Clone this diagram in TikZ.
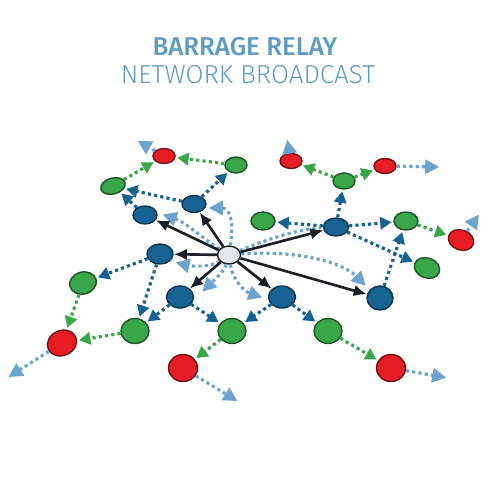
\documentclass[tikz,border=0pt]{standalone}
\usepackage{fontspec}
\newfontfamily\titlefont{Fira Sans Medium}
\newfontfamily\subtitlefont{Fira Sans Light}
\usetikzlibrary{shapes.geometric,arrows.meta}
\definecolor{titleblue}{RGB}{96,155,198}
\definecolor{hopblue}{RGB}{22,98,146}
\definecolor{hopgreen}{RGB}{58,166,74}
\definecolor{hopred}{RGB}{232,28,36}
\definecolor{echoblue}{RGB}{108,164,206}
\definecolor{hubgray}{RGB}{230,231,233}
\definecolor{linkblack}{RGB}{27,31,36}
\begin{document}
\begin{tikzpicture}[x=0.02cm,y=-0.02cm,>=Latex]
\tikzset{
  radio/.style={draw,shape=ellipse,inner sep=0pt,line width=0.8pt},
  sz/.style 2 args={minimum width=#1*0.02cm,minimum height=#2*0.02cm},
  hub/.style={radio,fill=hubgray,draw=linkblack},
  hopa/.style={radio,fill=hopblue,draw=hopblue!55!black},
  hopb/.style={radio,fill=hopgreen,draw=hopgreen!50!black},
  hopc/.style={radio,fill=hopred,draw=hopred!50!black},
  send/.style={-{Latex[length=7.5pt,width=6.5pt]},line width=1.5pt,draw=linkblack},
  dots/.style={line width=1.8pt,dash pattern=on 1.8pt off 1.8pt,shorten >=1pt},
  relaya/.style={dots,draw=hopblue,-{Triangle[length=6.5pt,width=7pt]}},
  relayb/.style={dots,draw=hopgreen,-{Triangle[length=6.5pt,width=7pt]}},
  echo/.style={dots,draw=echoblue,-{Triangle[length=8pt,width=8pt]}}
}
\useasboundingbox (0,0) rectangle (500,500);
% title
\node[text=titleblue,font=\titlefont\fontsize{14.7}{17}\selectfont] (head) at (245,47) {BARRAGE RELAY};
\node[text=titleblue,font=\subtitlefont\fontsize{14.8}{17}\selectfont] (subhead) at (248,75) {NETWORK BROADCAST};
% source
\node[hub,sz={23}{18}] (hub) at (229,255) {};
% first hop
\node[hopa,sz={24}{18}] (b1) at (145,215) {};
\node[hopa,sz={24}{17}] (b2) at (194,204) {};
\node[hopa,sz={26}{20}] (b3) at (160,254) {};
\node[hopa,sz={27}{22}] (b4) at (180,297) {};
\node[hopa,sz={27}{22}] (b5) at (282,297) {};
\node[hopa,sz={25}{18}] (b6) at (336,227) {};
\node[hopa,sz={26}{24}] (b7) at (380,298) {};
% second hop
\node[hopb,sz={25}{16},rotate=15] (g1) at (113,186) {};
\node[hopb,sz={22}{16}] (g2) at (236,165) {};
\node[hopb,sz={24}{18}] (g3) at (263,221) {};
\node[hopb,sz={22}{16}] (g4) at (344,181) {};
\node[hopb,sz={24}{18}] (g5) at (406,221) {};
\node[hopb,sz={26}{20},rotate=-20] (g6) at (427,268) {};
\node[hopb,sz={27}{22},rotate=15] (g7) at (83,283) {};
\node[hopb,sz={28}{25}] (g8) at (135,331) {};
\node[hopb,sz={28}{25}] (g9) at (232,331) {};
\node[hopb,sz={28}{25}] (g10) at (328,331) {};
% third hop
\node[hopc,sz={22}{15}] (r1) at (164,156) {};
\node[hopc,sz={22}{15}] (r2) at (291,161) {};
\node[hopc,sz={22}{15}] (r3) at (385,166) {};
\node[hopc,sz={26}{20},rotate=-20] (r4) at (461,240) {};
\node[hopc,sz={30}{25},rotate=25] (r5) at (62,343) {};
\node[hopc,sz={29}{27}] (r6) at (183,368) {};
\node[hopc,sz={29}{27}] (r7) at (391,368) {};
% loose ends
\coordinate (e1) at (136,140);
\coordinate (e2) at (287,138);
\coordinate (e3) at (441,167);
\coordinate (e4) at (480,213);
\coordinate (e5) at (7,378);
\coordinate (e6) at (239,402);
\coordinate (e7) at (448,378);
\coordinate (k1) at (161,214);
\coordinate (k2) at (207,208);
\coordinate (k3) at (174,262);
\coordinate (k4) at (201,293);
\coordinate (k5) at (264,298);
\coordinate (k6) at (367,287);
% overheard copies
\draw[echo] (hub) .. controls (205,240) and (185,222) .. (k1);
\draw[echo] (hub) .. controls (234,222) and (230,208) .. (k2);
\draw[echo] (hub) .. controls (210,268) and (190,266) .. (k3);
\draw[echo] (hub) .. controls (224,272) and (212,282) .. (k4);
\draw[echo] (hub) .. controls (233,282) and (246,292) .. (k5);
\draw[echo] (hub) .. controls (290,250) and (340,260) .. (k6);
\draw[dots,draw=echoblue] (hub) .. controls (270,238) and (300,229) .. (b6);
% direct transmissions
\foreach \dst in {b1,b2,b3,b4,b5,b6,b7}
  \draw[send] (hub) -- (\dst);
% relays to second hop
\draw[relaya] (b1) -- (g1);
\draw[relaya] (b2) -- (g1);
\draw[relaya] (b2) -- (g2);
\draw[relaya] (b3) -- (g7);
\draw[relaya] (b3) -- (g8);
\draw[relaya] (b4) -- (g8);
\draw[relaya] (b4) -- (g9);
\draw[relaya] (b5) -- (g9);
\draw[relaya] (b5) -- (g10);
\draw[relaya] (b6) -- (g3);
\draw[relaya] (b6) -- (g4);
\draw[relaya] (b6) -- (g5);
\draw[relaya] (b6) -- (g6);
\draw[relaya] (b7) -- (g5);
% relays to third hop
\draw[relayb] (g1) -- (r1);
\draw[relayb] (g2) -- (r1);
\draw[relayb] (g4) -- (r2);
\draw[relayb] (g4) -- (r3);
\draw[relayb] (g5) -- (r4);
\draw[relayb] (g7) -- (r5);
\draw[relayb] (g8) -- (r5);
\draw[relayb] (g9) -- (r6);
\draw[relayb] (g10) -- (r7);
% onward
\draw[echo] (r1) -- (e1);
\draw[echo] (r2) -- (e2);
\draw[echo] (r3) -- (e3);
\draw[echo] (r4) -- (e4);
\draw[echo] (r5) -- (e5);
\draw[echo] (r6) -- (e6);
\draw[echo] (r7) -- (e7);
\end{tikzpicture}
\end{document}
